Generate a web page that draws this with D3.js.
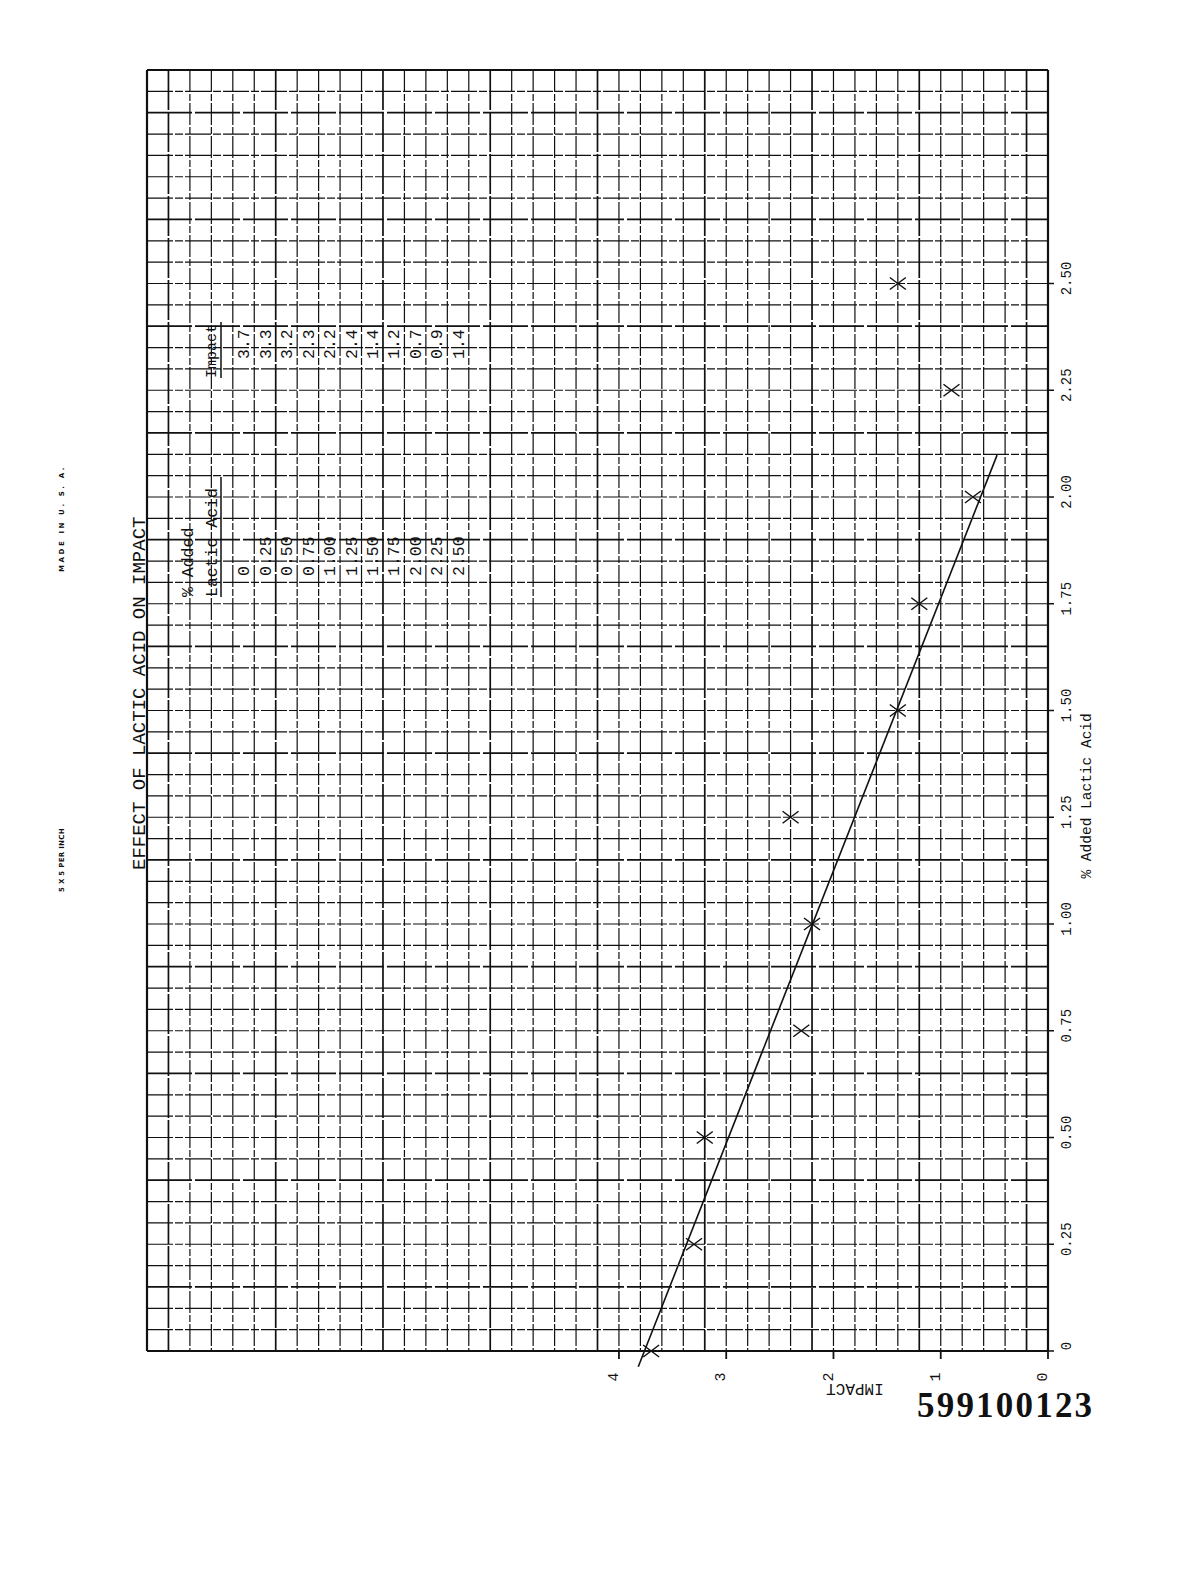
<!DOCTYPE html>
<html>
<head>
<meta charset="utf-8">
<script src="https://cdn.jsdelivr.net/npm/d3@7"></script>
<style>
  html, body { margin: 0; padding: 0; background: #fff; }
  svg { display: block; }
</style>
</head>
<body>
<svg id="chart" width="1200" height="1575"></svg>
<script>
// ---------- data ----------
const pctAdded = [0, 0.25, 0.50, 0.75, 1.00, 1.25, 1.50, 1.75, 2.00, 2.25, 2.50];
const impactValues = [3.7, 3.3, 3.2, 2.3, 2.2, 2.4, 1.4, 1.2, 0.7, 0.9, 1.4];
const pctTickLabels = ["0", "0.25", "0.50", "0.75", "1.00", "1.25", "1.50", "1.75", "2.00", "2.25", "2.50"];
const tablePctLabels = ["0", "0.25", "0.50", "0.75", "1.00", "1.25", "1.50", "1.75", "2.00", "2.25", "2.50"];
const impactTicks = [4, 3, 2, 1, 0];
const fitPct = [-0.037, 2.098];
const fitImpact = [3.82, 0.475];
const titleText = "EFFECT OF LACTIC ACID ON IMPACT";
const pctAxisTitle = "% Added Lactic Acid";
const impactAxisTitle = "IMPACT";
const docNumber = "599100123";

// ---------- scales (chart is rotated: impact runs right->left, % runs bottom->top) ----------
const svg = d3.select("#chart");
const x = d3.scaleLinear().domain([0, 8.4]).range([1048, 147]);
const y = d3.scaleLinear().domain([0, 3]).range([1351, 70]);

const mono = "'Liberation Mono', 'DejaVu Sans Mono', monospace";
const ink = "#111";

// ---------- grid ----------
const grid = svg.append("g");
const vK = d3.range(0, 43);
grid.selectAll("line.v").data(vK).join("line")
  .attr("x1", k => x(8.4 - 0.2 * k)).attr("x2", k => x(8.4 - 0.2 * k))
  .attr("y1", y(3)).attr("y2", y(0))
  .attr("stroke", ink)
  .attr("stroke-width", k => (k === 0 || k === 42) ? 2.2 : (k % 5 === 1 ? 1.7 : 1.2))
  .attr("stroke-dasharray", k => (k === 0 || k === 42) ? null : (k % 5 === 1 ? "40 2" : "22 2 7 2"));

const hR = d3.range(0, 61);
grid.selectAll("line.h").data(hR).join("line")
  .attr("y1", r => y(3 - 0.05 * r)).attr("y2", r => y(3 - 0.05 * r))
  .attr("x1", x(8.4)).attr("x2", x(0))
  .attr("stroke", ink)
  .attr("stroke-width", r => (r === 0 || r === 60) ? 2.2 : (r % 5 === 2 ? 1.7 : 1.2))
  .attr("stroke-dasharray", r => (r === 0 || r === 60) ? null : (r % 5 === 2 ? "45 3" : "26 2 8 2"));

// ---------- % axis (right side, rotated labels) ----------
const pctAxis = svg.append("g");
pctAxis.selectAll("line").data(pctAdded).join("line")
  .attr("x1", x(0)).attr("x2", x(0) + 6)
  .attr("y1", d => y(d)).attr("y2", d => y(d))
  .attr("stroke", ink).attr("stroke-width", 1.5);
pctAxis.selectAll("text").data(pctAdded).join("text")
  .attr("transform", d => `translate(${x(0) + 18},${y(d) - 5}) rotate(-90)`)
  .attr("text-anchor", "middle").attr("dy", "0.35em")
  .attr("font-family", mono).attr("font-size", 14).attr("fill", ink)
  .text((d, i) => pctTickLabels[i]);
svg.append("text")
  .attr("transform", `translate(${x(0) + 38},${y(1.3)}) rotate(-90)`)
  .attr("text-anchor", "middle").attr("dy", "0.35em")
  .attr("font-family", mono).attr("font-size", 14.5).attr("fill", ink)
  .text(pctAxisTitle);

// ---------- impact axis (bottom, rotated labels) ----------
const impAxis = svg.append("g");
impAxis.selectAll("line").data(impactTicks).join("line")
  .attr("x1", d => x(d)).attr("x2", d => x(d))
  .attr("y1", y(0)).attr("y2", y(0) + 8)
  .attr("stroke", ink).attr("stroke-width", 1.8);
impAxis.selectAll("text").data(impactTicks).join("text")
  .attr("transform", d => `translate(${x(d) - 6},${y(0) + 26}) rotate(-90)`)
  .attr("text-anchor", "middle").attr("dy", "0.35em")
  .attr("font-family", mono).attr("font-size", 15).attr("fill", ink)
  .text(d => d);
svg.append("text")
  .attr("transform", `translate(${x(1.8)},${y(0) + 39}) rotate(180)`)
  .attr("text-anchor", "middle").attr("dy", "0.35em")
  .attr("font-family", mono).attr("font-size", 16).attr("fill", ink)
  .text(impactAxisTitle);

// ---------- title ----------
svg.append("text")
  .attr("transform", `translate(138,870) rotate(-90)`)
  .attr("text-anchor", "start").attr("dy", "0.35em")
  .attr("font-family", mono).attr("font-size", 19).attr("fill", ink)
  .text(titleText);

// ---------- data table (typed on the sheet) ----------
const cell = (x(0) - x(8.4)) / 42;
const rowX = i => x(8.4) + cell * (4.5 + i);
const table = svg.append("g").attr("font-family", mono).attr("font-size", 16.5).attr("fill", ink);
table.append("text").attr("transform", `translate(187,597) rotate(-90)`).attr("dy", "0.35em").text("% Added");
table.append("text").attr("transform", `translate(211,597) rotate(-90)`).attr("dy", "0.35em").text("Lactic Acid");
table.append("text").attr("transform", `translate(211,378) rotate(-90)`).attr("dy", "0.35em").attr("font-size", 15).text("Impact");
table.append("line").attr("x1", 221).attr("x2", 221).attr("y1", 477).attr("y2", 597).attr("stroke", ink).attr("stroke-width", 1.5);
table.append("line").attr("x1", 221).attr("x2", 221).attr("y1", 322).attr("y2", 378).attr("stroke", ink).attr("stroke-width", 1.5);
table.selectAll("text.p").data(tablePctLabels).join("text").attr("class", "p")
  .attr("transform", (d, i) => `translate(${rowX(i)},576) rotate(-90)`)
  .attr("dy", "0.35em").text(d => d);
table.selectAll("text.im").data(impactValues).join("text").attr("class", "im")
  .attr("transform", (d, i) => `translate(${rowX(i)},359) rotate(-90)`)
  .attr("dy", "0.35em").text(d => d.toFixed(1));

// ---------- fitted line ----------
const line = d3.line().x(d => x(d[1])).y(d => y(d[0]));
svg.append("path")
  .datum(d3.zip(fitPct, fitImpact))
  .attr("d", line)
  .attr("fill", "none").attr("stroke", ink).attr("stroke-width", 1.6);

// ---------- data markers (X) ----------
svg.append("g").selectAll("path").data(d3.zip(pctAdded, impactValues)).join("path")
  .attr("transform", d => `translate(${x(d[1])},${y(d[0])})`)
  .attr("d", "M-8,-6L8,6M-8,6L8,-6")
  .attr("stroke", ink).attr("stroke-width", 1.5).attr("fill", "none");

// ---------- margin print ----------
svg.append("text")
  .attr("transform", `translate(62,572) rotate(-90)`)
  .attr("dy", "0.35em")
  .attr("font-family", "'DejaVu Sans', sans-serif").attr("font-weight", "bold")
  .attr("font-size", 7).attr("letter-spacing", 2.6).attr("fill", ink)
  .text("MADE IN U. S. A.");
svg.append("text")
  .attr("transform", `translate(62,892) rotate(-90)`)
  .attr("dy", "0.35em")
  .attr("font-family", "'DejaVu Sans', sans-serif").attr("font-weight", "bold")
  .attr("font-size", 7).attr("letter-spacing", 0.3).attr("fill", ink)
  .text("5 X 5 PER INCH");

// ---------- document number ----------
svg.append("text")
  .attr("x", 917).attr("y", 1417)
  .attr("font-family", "'Liberation Serif', 'DejaVu Serif', serif").attr("font-weight", "bold")
  .attr("font-size", 35).attr("letter-spacing", 2.2).attr("fill", ink)
  .text(docNumber);
</script>
</body>
</html>
